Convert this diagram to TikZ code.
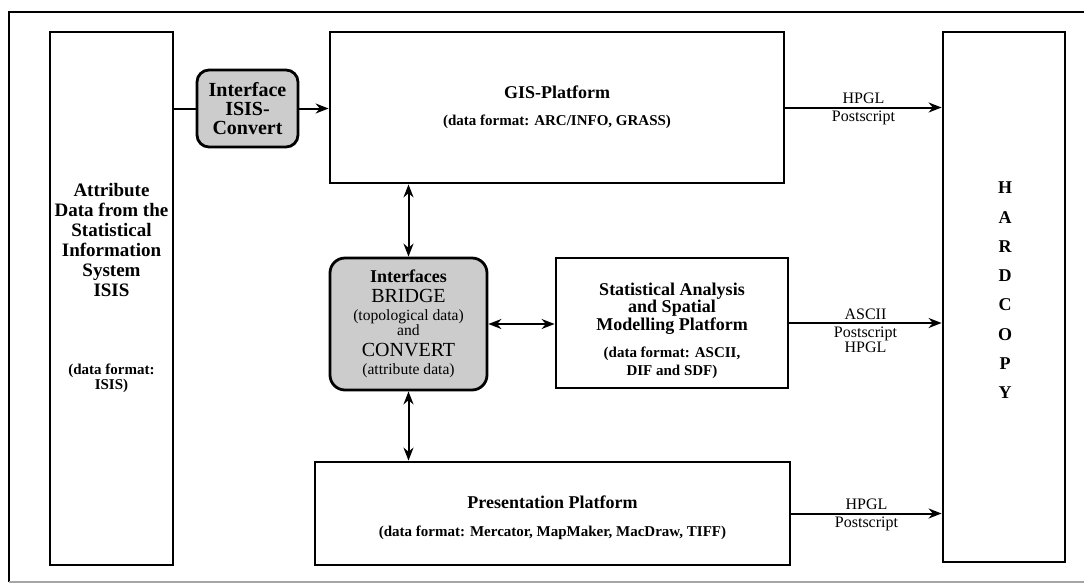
\documentclass[tikz,border=0pt]{standalone}
\usepackage{fontspec}
\setmainfont{Liberation Serif}
\usetikzlibrary{arrows.meta}

\newcommand\boxtitle{\fontsize{9}{9}\selectfont\bfseries}
\newcommand\boxformat{\fontsize{7.5}{8}\selectfont\bfseries}

\begin{document}
\begin{tikzpicture}[x=.5pt, y=-.5pt,
		box/.style={draw, line width=1.4pt, align=center, inner sep=0pt},
		iface/.style={box, rounded corners=6pt, fill=black!20},
		conn/.style={line width=1pt},
		outarrow/.style={conn, -{Stealth[length=6.5pt, width=5pt]}},
		twoway/.style={conn, {Stealth[length=6.5pt, width=5pt]}-{Stealth[length=6.5pt, width=5pt]}},
		fmt/.style={font=\fontsize{8}{7.5}\selectfont, inner sep=1.2pt}
	]
	\useasboundingbox (0,0) rectangle (1084,585);
	\draw[line width=.7pt] (9,582) -- (9,12) -- (1084,12);
	\draw[line width=.7pt, black!35] (9,582) -- (1084,582);

	% boxes
	\node[box, minimum width=61.5pt, minimum height=266.5pt] (attr) at (111.5,298.5) {};
	\node[align=center, font=\fontsize{9.5}{10}\selectfont\bfseries] (attr-txt) at (111.5,288)
		{Attribute\\Data from the\\Statistical\\Information\\System\\ISIS\\[29pt]{\boxformat (data format:}\\[-2.5pt]{\boxformat ISIS)}};
	\node[iface, minimum width=50.5pt, minimum height=38.5pt, font=\fontsize{10}{9.3}\selectfont\bfseries] (isis) at (247.5,108.5)
		{Interface\\ISIS-\\Convert};
	\node[box, minimum width=227pt, minimum height=75.5pt, font=\fontsize{9}{9}\selectfont] (gis) at (557,107.5)
		{{\boxtitle GIS-Platform}\\[4.5pt]{\boxformat (data format: ARC/INFO, GRASS)}};
	\node[iface, rounded corners=7.5pt, minimum width=78.5pt, minimum height=66pt, font=\fontsize{7.8}{9}\selectfont] (bridge) at (408.5,324)
		{{\boxtitle Interfaces}\\[1pt]{\fontsize{10}{10}\selectfont BRIDGE}\\(topological data)\\[-1.5pt]and\\[1.5pt]{\fontsize{10}{10}\selectfont CONVERT}\\(attribute data)};
	\node[box, minimum width=116pt, minimum height=65pt, font=\fontsize{9}{8.75}\selectfont] (stat) at (672,323)
		{{\boxtitle\rule{0pt}{14pt}Statistical Analysis}\\{\boxtitle and Spatial}\\{\boxtitle Modelling Platform}\\[5pt]{\boxformat (data format: ASCII,}\\{\boxformat DIF and SDF)}};
	\node[box, minimum width=237.5pt, minimum height=51.5pt, font=\fontsize{9}{9}\selectfont] (pres) at (552.5,513.5)
		{{\boxtitle\rule{0pt}{11pt}Presentation Platform}\\[5pt]{\boxformat (data format: Mercator, MapMaker, MacDraw, TIFF)}};
	\node[box, minimum width=61pt, minimum height=265pt] (hard) at (1004,297) {};
	\foreach \letter [count=\i] in {H,A,R,D,C,O,P,Y}{
			\node[font=\boxtitle] (hard-\i) at (1005, {158.5+29.3*\i}) {\letter};
		}

	% connectors
	\draw[conn] (attr.east |- isis.west) -- (isis.west);
	\draw[outarrow] (isis.east) -- (isis.east -| gis.west);
	\draw[twoway] (gis.south -| bridge.north) -- (bridge.north);
	\draw[twoway] (bridge.south) -- (bridge.south |- pres.north);
	\draw[twoway] (bridge.east) -- (bridge.east -| stat.west);
	\draw[outarrow] (gis.east) -- (gis.east -| hard.west)
		node[midway, above, fmt] (gis-above) {HPGL}
		node[midway, below, fmt] (gis-below) {Postscript};
	\draw[outarrow] (stat.east) -- (stat.east -| hard.west)
		node[midway, above, fmt] (stat-above) {ASCII}
		node[midway, below, fmt, align=center] (stat-below) {Postscript\\HPGL};
	\draw[outarrow] (pres.east) -- (pres.east -| hard.west)
		node[midway, above, fmt] (pres-above) {HPGL}
		node[midway, below, fmt] (pres-below) {Postscript};
\end{tikzpicture}
\end{document}
